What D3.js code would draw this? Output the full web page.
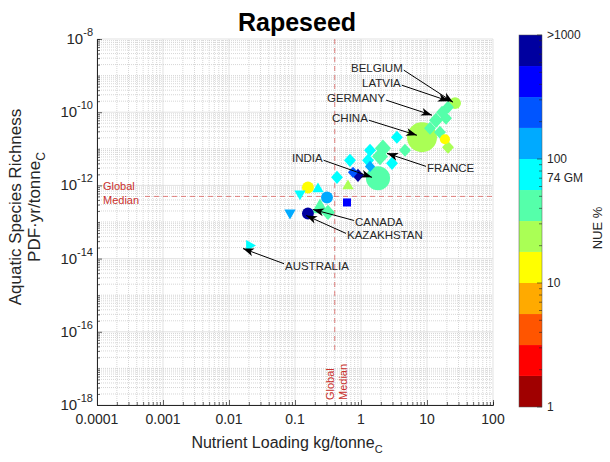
<!DOCTYPE html>
<html>
<head>
<meta charset="utf-8">
<script src="https://cdn.jsdelivr.net/npm/d3@7"></script>
<style>
  body { margin: 0; background: #fff; }
  text { font-family: Arial, "Liberation Sans", Helvetica, sans-serif; fill: #262626; }
</style>
</head>
<body>
<div id="chart"></div>
<script>
// Rapeseed: nutrient loading vs aquatic species richness, coloured by NUE

const width = 610;
const height = 462;

// one entry per country point
const nutrientLoading = [26.6, 20.8, 16.9, 13.7, 11.1, 19.4, 15.7, 8.4, 18.7, 20.8,
                         3.5, 4.64, 2.15, 1.94, 2.95, 1.37, 1.28, 1.81, 0.90, 0.757,
                         1.37, 0.68, 0.433, 0.635, 0.614, 0.157, 0.119, 0.223, 0.305, 0.239,
                         0.316, 0.084, 0.157, 0.0208];
const speciesRichness = [1.77e-10, 1.37e-10, 1.0e-10, 6.0e-11, 3.65e-11, 6.85e-11, 2.83e-11, 2.07e-11, 1.82e-11, 1.1e-11,
                         2.07e-11, 9.1e-12, 1.03e-11, 6.2e-12, 4.0e-12, 9.1e-12, 4.84e-12, 1.56e-12, 1.88e-12, 2.27e-12,
                         3.3e-12, 4.84e-12, 1.66e-12, 1.0e-12, 3.42e-13, 8.8e-13, 5.67e-13, 8.3e-13, 4.69e-13, 2.5e-13,
                         1.82e-13, 1.71e-13, 1.71e-13, 2.27e-14];
const nue = [25, 45, 45, 45, 45, 45, 45, 25, 13, 25,
             75, 45, 45, 45, 75, 75, 75, 45, 1500, 250,
             130, 75, 75, 25, 450, 13, 75, 75, 130, 45,
             45, 130, 1500, 75];
const production = [2.2, 2.2, 2.2, 3.0, 2.2, 2.2, 2.2, 14.0, 1.6, 2.2,
                    2.2, 2.2, 4.0, 4.0, 2.2, 2.2, 2.2, 9.0, 2.2, 1.6,
                    1.6, 2.2, 2.2, 2.2, 1.0, 2.2, 2.2, 2.2, 2.2, 5.0,
                    3.0, 2.2, 2.2, 2.2];
const markerGroup = [1, 2, 2, 2, 2, 2, 2, 1, 1, 2,
                     2, 2, 2, 2, 2, 2, 2, 1, 2, 2,
                     2, 2, 2, 3, 6, 1, 4, 3, 1, 3,
                     2, 4, 1, 5];

// annotations (text anchor and arrow tip, data units)
const countries = ["BELGIUM", "LATVIA", "GERMANY", "CHINA", "INDIA", "FRANCE", "CANADA", "KAZAKHSTAN", "AUSTRALIA"];
const labelX = [0.705, 1.035, 0.305, 0.364, 0.090, 10, 0.81, 0.614, 0.0705];
const labelY = [1.6e-9, 6.2e-10, 2.42e-10, 6.85e-11, 5.5e-12, 2.92e-12, 9.7e-14, 4.3e-14, 6.4e-15];
const arrowX = [24.8, 21.5, 11.9, 7.05, 1.47, 2.48, 0.1875, 0.147, 0.0163];
const arrowY = [1.88e-10, 2.0e-10, 8.3e-11, 2.34e-11, 1.66e-12, 7.5e-12, 2.2e-13, 1.51e-13, 1.88e-14];

const globalMedianX = 0.4;
const globalMedianY = 5e-13;
const globalMedianNue = 74;

const xTicks = [1e-4, 1e-3, 1e-2, 1e-1, 1, 10, 100];
const xTickLabels = ["0.0001", "0.001", "0.01", "0.1", "1", "10", "100"];
const yTicks = [1e-8, 1e-10, 1e-12, 1e-14, 1e-16, 1e-18];
const yTickExponents = ["-8", "-10", "-12", "-14", "-16", "-18"];

const nueBreaks = [1, 1.78, 3.16, 5.62, 10, 17.8, 31.6, 56.2, 100, 178, 316, 562, 1000];
const nueColors = ["#a00000", "#ff0000", "#ff5500", "#ffaa00", "#ffff00", "#aaff55",
                   "#55ffaa", "#00ffff", "#00aaff", "#0055ff", "#0000ff", "#0000a0"];
const nueTicks = [1, 10, 100, 1000];
const nueTickLabels = ["1", "10", "100", ">1000"];

const svg = d3.select("#chart")
              .append("svg")
              .attr("width", width)
              .attr("height", height);

const x = d3.scaleLog().domain([1e-4, 100]).range([97, 493]);
const y = d3.scaleLog().domain([1e-18, 1e-8]).range([405, 39]);
const radius = d3.scaleSqrt().domain([0, 14]).range([0, 15]);
const color = d3.scaleThreshold().domain(nueBreaks.slice(1, -1)).range(nueColors);

const minorValues = (lo, hi) => {
  const out = [];
  for (let e = lo; e < hi; e++) {
    for (let k = 1; k < 10; k++) out.push(k * Math.pow(10, e));
  }
  out.push(Math.pow(10, hi));
  return out;
};
const xAll = minorValues(-4, 2);
const yAll = minorValues(-18, -8);
const isMajorX = v => xTicks.some(t => Math.abs(Math.log10(v / t)) < 1e-6);
const isMajorY = v => yTicks.some(t => Math.abs(Math.log10(v / t)) < 1e-6);

// grid
const grid = svg.append("g");
grid.selectAll(".gx")
    .data(xAll)
    .enter()
    .append("line")
    .attr("x1", d => x(d)).attr("x2", d => x(d))
    .attr("y1", y.range()[0]).attr("y2", y.range()[1])
    .attr("stroke", d => isMajorX(d) ? "#d6d6d6" : "#c4c4c4")
    .attr("stroke-dasharray", d => isMajorX(d) ? null : "1,1")
    .attr("stroke-width", 0.7);
grid.selectAll(".gy")
    .data(yAll)
    .enter()
    .append("line")
    .attr("y1", d => y(d)).attr("y2", d => y(d))
    .attr("x1", x.range()[0]).attr("x2", x.range()[1])
    .attr("stroke", d => isMajorY(d) ? "#d6d6d6" : "#c4c4c4")
    .attr("stroke-dasharray", d => isMajorY(d) ? null : "1,1")
    .attr("stroke-width", 0.7);

// global median lines
const medianColor = "#d9534f";
svg.append("line")
   .attr("x1", x(1e-4) + 48).attr("x2", x(100))
   .attr("y1", y(globalMedianY)).attr("y2", y(globalMedianY))
   .attr("stroke", medianColor).attr("stroke-opacity", 0.7)
   .attr("stroke-dasharray", "5,4").attr("stroke-width", 1);
svg.append("line")
   .attr("x1", x(globalMedianX)).attr("x2", x(globalMedianX))
   .attr("y1", y(1e-8)).attr("y2", y(1e-18) - 55)
   .attr("stroke", medianColor).attr("stroke-opacity", 0.7)
   .attr("stroke-dasharray", "5,4").attr("stroke-width", 1);

const medTxt = svg.append("text")
   .attr("x", x(1e-4) + 6).attr("y", y(globalMedianY) - 6)
   .style("font-size", "11px").style("fill", "#c9302c");
medTxt.append("tspan").text("Global");
medTxt.append("tspan").attr("x", x(1e-4) + 6).attr("dy", 14).text("Median");

const medTxtV = svg.append("text")
   .attr("transform", `translate(${x(globalMedianX) - 1}, ${y(1e-18) - 5}) rotate(-90)`)
   .style("font-size", "11px").style("fill", "#c9302c");
medTxtV.append("tspan").attr("x", 0).text("Global");
medTxtV.append("tspan").attr("x", 0).attr("dy", 13).text("Median");

// points
const symbolPath = (g, r) => {
  switch (g) {
    case 1: return `M${r},0A${r},${r} 0 1,1 ${-r},0A${r},${r} 0 1,1 ${r},0Z`;
    case 2: return `M0,${-r * 1.1}L${r},0L0,${r * 1.1}L${-r},0Z`;
    case 3: return `M0,${-r}L${r * 0.95},${r * 0.65}L${-r * 0.95},${r * 0.65}Z`;
    case 4: return `M0,${r}L${r * 0.95},${-r * 0.65}L${-r * 0.95},${-r * 0.65}Z`;
    case 5: return `M${r},0L${-r * 0.65},${r * 0.95}L${-r * 0.65},${-r * 0.95}Z`;
    default: return `M${-r},${-r}H${r}V${r}H${-r}Z`;
  }
};

const points = nutrientLoading.map((v, i) => ({
  x: v, y: speciesRichness[i], nue: nue[i], prod: production[i], group: markerGroup[i]
})).sort((a, b) => b.prod - a.prod);

svg.append("g")
   .selectAll("path")
   .data(points)
   .enter()
   .append("path")
   .attr("transform", d => `translate(${x(d.x)}, ${y(d.y)})`)
   .attr("d", d => symbolPath(d.group, radius(d.prod)))
   .attr("fill", d => color(d.nue));

// axes
const xAxis = d3.axisBottom(x).tickValues(xAll).tickSize(-3).tickFormat("");
const gx = svg.append("g").attr("transform", `translate(0, ${y.range()[0]})`).call(xAxis);
gx.selectAll(".tick line").filter(d => isMajorX(d)).attr("y2", -5);
const yAxis = d3.axisLeft(y).tickValues(yAll).tickSize(-3).tickFormat("");
const gy = svg.append("g").attr("transform", `translate(${x.range()[0]}, 0)`).call(yAxis);
gy.selectAll(".tick line").filter(d => isMajorY(d)).attr("x2", 5);
[gx, gy].forEach(g => {
  g.select(".domain").attr("stroke", "#262626");
  g.selectAll(".tick line").attr("stroke", "#262626").attr("stroke-width", 0.7);
});

svg.append("g")
   .selectAll("text")
   .data(xTicks)
   .enter()
   .append("text")
   .attr("x", d => x(d))
   .attr("y", y.range()[0] + 19)
   .attr("text-anchor", "middle")
   .style("font-size", "14px")
   .text((d, i) => xTickLabels[i]);

const yLab = svg.append("g")
   .selectAll("text")
   .data(yTicks)
   .enter()
   .append("text")
   .attr("x", x.range()[0] - 4)
   .attr("y", d => y(d) + 5)
   .attr("text-anchor", "end")
   .style("font-size", "15px");
yLab.append("tspan").text("10");
yLab.append("tspan").attr("dy", -8).style("font-size", "11px").text((d, i) => yTickExponents[i]);

// axis titles
const xt = svg.append("text")
   .attr("x", (x.range()[0] + x.range()[1]) / 2 - 8)
   .attr("y", 448)
   .attr("text-anchor", "middle")
   .style("font-size", "16px");
xt.append("tspan").text("Nutrient Loading kg/tonne");
xt.append("tspan").attr("dy", 5).style("font-size", "11px").text("C");

const yt = svg.append("text")
   .attr("transform", `translate(21, 207) rotate(-90)`)
   .attr("text-anchor", "middle")
   .style("font-size", "17px");
yt.append("tspan").attr("x", 0).text("Aquatic Species Richness");
const yt2 = svg.append("text")
   .attr("transform", `translate(40, 207) rotate(-90)`)
   .attr("text-anchor", "middle")
   .style("font-size", "17px");
yt2.append("tspan").text("PDF\u00b7yr/tonne");
yt2.append("tspan").attr("dy", 5).style("font-size", "12px").text("C");

// title
svg.append("text")
   .attr("x", 297).attr("y", 31)
   .attr("text-anchor", "middle")
   .style("font-size", "25px").style("font-weight", "bold")
   .style("fill", "#000")
   .text("Rapeseed");

// country annotations
svg.append("defs").append("marker")
   .attr("id", "head")
   .attr("viewBox", "-12 -5 14 10")
   .attr("refX", 0).attr("refY", 0)
   .attr("markerWidth", 14).attr("markerHeight", 10)
   .attr("markerUnits", "userSpaceOnUse")
   .attr("orient", "auto")
   .append("path")
   .attr("d", "M0,0L-11,-4L-8,0L-11,4Z")
   .attr("fill", "#000");

countries.forEach((name, i) => {
  const tx = x(labelX[i]), ty = y(labelY[i]);
  const ax = x(arrowX[i]), ay = y(arrowY[i]);
  const t = svg.append("text")
     .attr("x", tx).attr("y", ty)
     .attr("dominant-baseline", "central")
     .style("font-size", "11.5px")
     .text(name);
  const w = t.node().getComputedTextLength();
  const leftSide = ax > tx + w;
  const sx = leftSide ? tx + w + 1 : tx - 1;
  const sy = leftSide ? ty + 2 : ty - 2;
  svg.append("line")
     .attr("x1", sx).attr("y1", sy)
     .attr("x2", ax).attr("y2", ay)
     .attr("stroke", "#000").attr("stroke-width", 1)
     .attr("marker-end", "url(#head)");
});

// colorbar
const cb = d3.scaleLog().domain([1, 1000]).range([407, 35]);
const cbX = 519, cbW = 23;
svg.append("g")
   .selectAll("rect")
   .data(nueColors)
   .enter()
   .append("rect")
   .attr("x", cbX)
   .attr("width", cbW)
   .attr("y", (d, i) => cb(nueBreaks[i + 1]))
   .attr("height", (d, i) => cb(nueBreaks[i]) - cb(nueBreaks[i + 1]))
   .attr("fill", d => d);
svg.append("rect")
   .attr("x", cbX).attr("y", cb(1000))
   .attr("width", cbW).attr("height", cb(1) - cb(1000))
   .attr("fill", "none").attr("stroke", "#555").attr("stroke-width", 0.5);

const cbAll = minorValues(0, 3);
svg.append("g")
   .selectAll("line")
   .data(cbAll)
   .enter()
   .append("line")
   .attr("x1", cbX + cbW)
   .attr("x2", d => cbX + cbW - (nueTicks.includes(d) ? 5 : 3))
   .attr("y1", d => cb(d)).attr("y2", d => cb(d))
   .attr("stroke", "#262626").attr("stroke-width", 0.6);

svg.append("g")
   .selectAll("text")
   .data(nueTicks)
   .enter()
   .append("text")
   .attr("x", cbX + cbW + 5)
   .attr("y", d => cb(d))
   .attr("dominant-baseline", "central")
   .style("font-size", "12px")
   .text((d, i) => nueTickLabels[i]);
svg.append("text")
   .attr("x", cbX + cbW + 5)
   .attr("y", cb(globalMedianNue) + 3)
   .attr("dominant-baseline", "central")
   .style("font-size", "12px")
   .text(`${globalMedianNue} GM`);

svg.append("text")
   .attr("transform", `translate(597, 228) rotate(-90)`)
   .attr("text-anchor", "middle")
   .attr("dominant-baseline", "central")
   .style("font-size", "13px")
   .text("NUE %");
</script>
</body>
</html>
